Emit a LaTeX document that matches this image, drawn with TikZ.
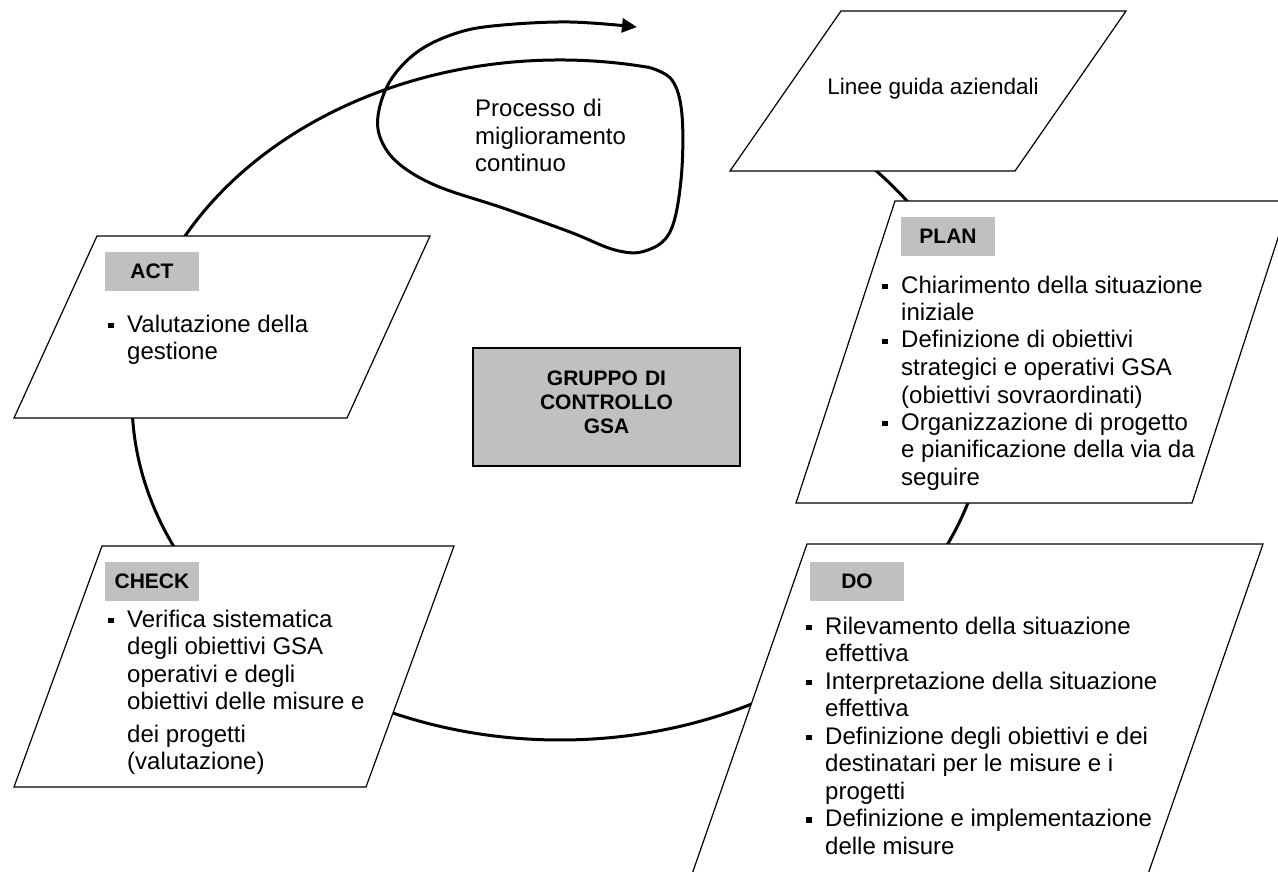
\documentclass[tikz,border=0pt]{standalone}
\usepackage{fontspec}
\setmainfont{Liberation Sans}
\usetikzlibrary{arrows.meta}
\definecolor{labelgray}{HTML}{C0C0C0}
\newcommand{\bsq}{\makebox[19pt][l]{\rule[4pt]{5.5pt}{5.5pt}}}
\begin{document}
\begin{tikzpicture}[x=1pt,y=-1pt,
  ring/.style={line width=3pt},
  pgram/.style={draw, line width=1.2pt, fill=white, line join=miter},
  tag/.style={fill=labelgray, minimum width=94pt, minimum height=39pt, inner sep=0pt, font=\fontsize{21}{24}\selectfont\bfseries},
  body/.style={anchor=base west, inner sep=0pt, font=\fontsize{24}{27.5}\selectfont},
]
\useasboundingbox (0,0) rectangle (1278,872);
\clip (0,0) rectangle (1278,872);

% ring (ellipse centre 560,400; radii 428 x 340)
\path (560,400) ++(-45:428 and 340) coordinate (r1);
\path (560,400) ++(15:428 and 340) coordinate (r2);
\path (560,400) ++(60:428 and 340) coordinate (r3);
\path (560,400) ++(150:428 and 340) coordinate (r4);
\path (560,400) ++(205:428 and 340) coordinate (r5);
\draw[ring] (r1) arc[start angle=-45, end angle=-33, x radius=428, y radius=340];
\draw[ring] (r2) arc[start angle=15, end angle=28, x radius=428, y radius=340];
\draw[ring] (r3) arc[start angle=60, end angle=116, x radius=428, y radius=340];
\draw[ring] (r4) arc[start angle=150, end angle=180, x radius=428, y radius=340];
\draw[ring, -{Triangle[length=15pt,width=14pt]}] (r5) arc[start angle=205, end angle=282, x radius=428, y radius=340]
  -- plot[smooth, tension=0.6] coordinates {(649,67.4) (672,80) (682,115) (681,180) (670,232) (645,251) (615,250) (570,232) (503,208) (437,186) (398,163) (380,137) (379,110) (392,78) (420,50) (460,32) (503,25) (570,22) (637,27)};

% parallelograms
\draw[pgram] (841,11) -- (1126,11) -- (1015,171) -- (730,171) -- cycle;
\draw[pgram] (895,201) -- (1290,201) -- (1192,503) -- (796,503) -- cycle;
\draw[pgram] (807,544) -- (1263,544) -- (1139,900) -- (683,900) -- cycle;
\draw[pgram] (102,546) -- (454,546) -- (366,787) -- (14,787) -- cycle;
\draw[pgram] (97,236) -- (430,236) -- (347,418) -- (14,418) -- cycle;

% centre box
\node[draw, fill=labelgray, line width=1.2pt, minimum width=267pt, minimum height=118pt, inner sep=0pt] (gsa) at (606.5,407) {};
\node[anchor=base, text width=260pt, align=center, inner sep=0pt, font=\fontsize{21}{24}\selectfont\bfseries] (gsatext) at (606.5,385) {GRUPPO DI\\CONTROLLO\\GSA};

% texts
\node[anchor=base, inner sep=0pt, font=\fontsize{22.5}{27}\selectfont] (linee) at (933,95) {Linee guida aziendali};
\node[body, text width=250pt, align=left] (proc) at (475,117) {Processo di\\miglioramento\\continuo};

\node[tag] (plantag) at (948,236.5) {PLAN};
\node[body] (plantext) at (882,293) {\begin{tabular}[t]{@{}l@{}l@{}}
\bsq & Chiarimento della situazione\\
 & iniziale\\
\bsq & Definizione di obiettivi\\
 & strategici e operativi GSA\\
 & (obiettivi sovraordinati)\\
\bsq & Organizzazione di progetto\\
 & e pianificazione della via da\\
 & seguire
\end{tabular}};

\node[tag] (acttag) at (152,271.5) {ACT};
\node[body] (acttext) at (108,332) {\begin{tabular}[t]{@{}l@{}l@{}}
\bsq & Valutazione della\\
 & gestione
\end{tabular}};

\node[tag] (checktag) at (152,581.5) {CHECK};
\node[body] (checktext) at (108,627) {\begin{tabular}[t]{@{}l@{}l@{}}
\bsq & Verifica sistematica\\
 & degli obiettivi GSA\\
 & operativi e degli\\
 & obiettivi delle misure e\\[5pt]
 & dei progetti\\
 & (valutazione)
\end{tabular}};

\node[tag] (dotag) at (857,581.5) {DO};
\node[body] (dotext) at (806,634) {\begin{tabular}[t]{@{}l@{}l@{}}
\bsq & Rilevamento della situazione\\
 & effettiva\\
\bsq & Interpretazione della situazione\\
 & effettiva\\
\bsq & Definizione degli obiettivi e dei\\
 & destinatari per le misure e i\\
 & progetti\\
\bsq & Definizione e implementazione\\
 & delle misure
\end{tabular}};
\end{tikzpicture}
\end{document}
